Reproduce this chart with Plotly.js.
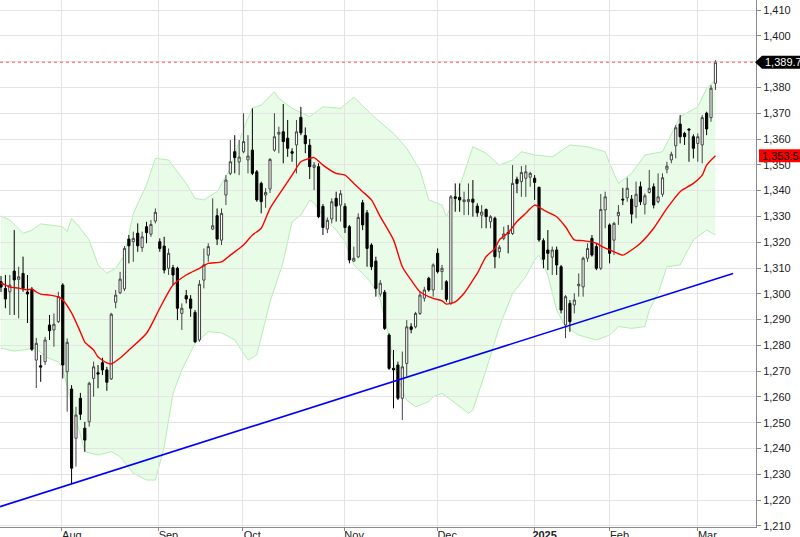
<!DOCTYPE html>
<html><head><meta charset="utf-8">
<script src="https://cdn.plot.ly/plotly-3.0.1.min.js"></script>
<style>html,body{margin:0;padding:0;background:#fff}#chart{width:800px;height:537px}</style>
</head><body><div id="chart"></div>
<script>
// ---- candle data (one per trading day) ----
const open = [
1304.7,1302.1,1300.8,1308.8,1305.6,1307.9,1300.7,1301.7,1274.3,1272.1,
1273.7,1287.9,1286.0,1289.2,1303.4,1269.8,1263.1,1244.0,1259.5,1247.9,
1250.4,1267.2,1269.4,1273.3,1270.5,1267.0,1296.7,1300.4,1301.9,1321.2,
1320.2,1323.5,1317.9,1326.0,1323.1,1328.2,1320.2,1318.5,1309.9,1310.1,
1309.9,1292.4,1299.3,1298.0,1292.8,1282.1,1305.3,1315.0,1325.1,1330.3,
1320.8,1338.3,1346.7,1355.1,1351.1,1355.1,1351.9,1355.7,1347.3,1342.8,
1338.3,1340.6,1355.7,1361.9,1362.8,1360.3,1355.1,1357.7,1368.4,1361.4,
1357.6,1349.0,1349.3,1333.9,1325.1,1329.0,1337.0,1334.4,1333.9,1326.0,
1312.7,1314.3,1335.3,1331.4,1318.9,1312.7,1299.9,1300.6,1284.0,1271.1,
1272.4,1259.5,1273.0,1287.2,1287.2,1292.4,1298.3,1306.0,1301.5,1315.7,
1308.6,1304.7,1296.3,1337.6,1337.4,1335.7,1335.7,1336.7,1334.0,1330.5,
1332.7,1328.0,1329.3,1316.3,1321.5,1323.8,1323.4,1344.4,1343.5,1344.8,
1345.2,1344.8,1341.3,1320.6,1317.0,1314.2,1317.0,1310.5,1287.9,1296.3,
1295.7,1303.1,1302.7,1313.8,1321.5,1318.3,1309.9,1332.5,1326.7,1320.8,
1330.3,1336.7,1337.2,1336.7,1333.8,1341.5,1334.7,1339.3,1341.5,1335.7,
1338.6,1348.3,1351.9,1357.4,1365.8,1362.2,1363.9,1360.9,1358.3,1357.7,
1370.0,1368.3,1381.6];
const high = [
1306.9,1307.3,1307.3,1324.7,1310.5,1314.4,1307.3,1302.6,1282.9,1276.3,
1283.3,1291.8,1292.4,1300.8,1304.1,1282.7,1264.6,1256.2,1261.6,1250.4,
1265.9,1273.7,1272.4,1275.2,1271.7,1292.6,1301.5,1308.5,1318.5,1322.8,
1324.1,1327.3,1324.1,1327.9,1328.6,1333.1,1321.5,1322.1,1317.6,1311.2,
1310.5,1296.3,1301.5,1299.5,1293.7,1305.3,1317.6,1319.6,1337.0,1333.1,
1333.1,1346.0,1359.6,1361.5,1359.6,1370.0,1361.5,1371.9,1348.0,1343.5,
1341.0,1352.6,1370.0,1364.8,1373.6,1367.4,1356.4,1367.4,1372.5,1364.5,
1360.0,1351.1,1350.6,1334.8,1329.6,1337.0,1339.6,1340.2,1335.1,1326.7,
1318.3,1331.2,1336.4,1332.5,1319.6,1314.4,1305.3,1301.5,1284.7,1278.2,
1273.7,1277.6,1289.8,1288.6,1293.0,1300.8,1302.7,1306.6,1311.8,1317.6,
1311.2,1305.3,1338.3,1342.8,1342.8,1339.6,1342.8,1344.1,1335.1,1334.4,
1333.1,1330.5,1329.9,1318.9,1326.0,1326.7,1349.9,1345.4,1349.5,1349.9,
1347.3,1346.0,1341.5,1321.5,1324.7,1318.3,1318.3,1311.2,1299.5,1297.6,
1300.2,1307.9,1314.4,1319.6,1322.8,1319.6,1338.7,1339.6,1327.3,1327.9,
1334.4,1341.1,1345.0,1338.3,1343.5,1343.5,1338.9,1348.0,1342.8,1346.7,
1346.7,1351.2,1355.1,1365.4,1369.3,1362.8,1364.1,1361.8,1362.2,1369.3,
1370.6,1380.9,1390.6];
const low = [
1300.7,1294.4,1291.8,1291.8,1290.5,1300.8,1288.7,1277.8,1263.5,1265.9,
1272.4,1282.1,1279.5,1288.7,1267.2,1254.3,1226.6,1233.0,1251.1,1238.8,
1248.5,1260.1,1263.4,1268.5,1262.4,1266.6,1294.4,1299.9,1301.1,1311.8,
1312.4,1316.3,1316.3,1319.6,1322.1,1327.3,1316.3,1307.9,1307.3,1303.4,
1289.8,1286.0,1296.3,1291.1,1280.9,1281.4,1302.1,1312.4,1324.7,1318.9,
1318.9,1334.4,1346.0,1346.7,1346.0,1354.5,1346.7,1346.0,1335.7,1331.2,
1333.3,1339.1,1355.1,1354.5,1350.6,1353.1,1351.2,1346.7,1361.5,1354.5,
1344.5,1340.2,1329.3,1322.8,1323.5,1327.3,1328.0,1328.0,1323.6,1311.8,
1312.3,1313.8,1324.7,1310.5,1309.2,1298.9,1298.9,1286.0,1270.5,1255.6,
1258.8,1251.1,1267.9,1284.7,1286.6,1291.8,1297.0,1300.8,1298.9,1307.9,
1301.5,1296.9,1295.7,1331.8,1331.8,1330.5,1330.5,1329.9,1329.9,1325.4,
1325.4,1325.4,1309.9,1313.8,1320.8,1315.7,1322.8,1339.0,1337.6,1337.6,
1341.5,1336.4,1320.2,1309.9,1309.2,1307.3,1307.3,1292.4,1282.8,1285.3,
1292.4,1298.9,1298.9,1312.4,1314.4,1309.2,1309.2,1325.4,1311.8,1315.0,
1326.7,1334.4,1335.7,1327.3,1329.3,1334.4,1330.8,1338.9,1333.1,1335.1,
1337.6,1346.7,1350.6,1352.5,1358.3,1357.7,1351.2,1352.5,1351.2,1350.6,
1361.5,1366.7,1379.0];
const close = [
1302.6,1298.0,1303.4,1305.4,1306.6,1302.1,1299.9,1278.5,1280.8,1271.6,
1282.1,1285.7,1288.2,1298.9,1272.4,1281.2,1232.4,1253.0,1253.3,1243.3,
1265.3,1271.7,1268.9,1270.5,1265.7,1292.1,1299.5,1305.7,1317.6,1318.6,
1321.5,1318.6,1322.1,1323.7,1326.9,1331.6,1317.6,1309.2,1315.7,1307.3,
1294.4,1294.4,1298.0,1294.4,1281.4,1303.7,1311.2,1318.3,1326.4,1321.2,
1331.2,1344.1,1351.2,1352.8,1353.0,1359.0,1353.4,1346.7,1336.4,1335.7,
1339.3,1352.1,1360.9,1362.6,1359.0,1356.4,1354.5,1362.8,1362.4,1358.2,
1349.3,1349.9,1329.9,1325.7,1328.5,1335.7,1334.0,1338.8,1325.7,1313.1,
1313.8,1329.6,1326.7,1317.6,1310.5,1302.1,1304.1,1286.6,1271.1,1270.5,
1259.5,1271.7,1287.2,1286.2,1292.4,1299.5,1301.5,1301.5,1311.2,1308.6,
1309.9,1297.9,1337.6,1337.0,1336.4,1336.4,1336.6,1335.5,1331.4,1331.7,
1329.9,1329.9,1314.4,1318.0,1323.2,1323.4,1342.8,1342.8,1347.0,1347.3,
1346.7,1343.2,1320.9,1313.4,1315.7,1317.0,1311.2,1293.7,1298.9,1289.2,
1297.6,1303.7,1313.8,1317.6,1315.0,1309.9,1332.7,1337.6,1315.7,1327.3,
1331.6,1336.4,1340.9,1330.9,1338.6,1335.7,1338.0,1340.9,1334.4,1337.6,
1345.0,1349.5,1354.1,1364.4,1360.9,1360.9,1363.5,1356.4,1360.9,1368.3,
1363.9,1379.7,1389.77];

// ---- indicator readings (day index, value) ----
const maIdx = [0,2,4,6,7,8,9,11,13,14,16,18,19,21,22,24,25,27,29,33,
36,39,42,45,47,50,52,55,57,59,61,64,66,68,70,71,73,76,78,80,
82,84,86,89,91,93,95,98,100,101,103,105,107,108,110,112,113,115,117,119,
121,123,126,128,130,132,135,136,138,141,143,145,148,151,154,157,159,160,162];
const maVal = [1304.2,1302.6,1302.2,1301.5,1301.9,1300.7,1299.9,1299.5,1298.8,1297.6,
1292.6,1285.2,1281.3,1278.2,1275.5,1273.2,1272.8,1275.1,1278.2,1284.7,
1294.4,1303.4,1307.3,1309.9,1311.8,1312.4,1315.0,1318.9,1322.8,1325.4,
1333.1,1340.9,1346.0,1351.2,1352.5,1352.8,1349.9,1346.7,1346.0,1342.8,
1339.6,1336.4,1329.9,1320.9,1310.5,1305.3,1300.8,1298.2,1297.3,1296.0,
1296.9,1300.2,1305.3,1307.9,1314.4,1317.6,1320.9,1323.7,1328.0,1331.2,
1334.4,1332.5,1329.9,1326.0,1320.9,1320.6,1319.6,1318.6,1317.0,1315.0,
1317.0,1319.6,1325.4,1333.1,1339.6,1342.8,1346.0,1349.9,1353.53];

const upperIdx = [0,2,5,7,9,14,15,16,18,20,22,24,26,28,30,33,35,38,40,42,
44,46,49,52,55,57,59,62,63,66,70,73,77,80,83,85,89,92,95,97,
100,101,104,107,110,113,116,118,121,125,129,133,137,138,140,143,146,150,154,158,
160,162];
const upperVal = [1330.2,1328.6,1323.4,1324.7,1327.1,1326.0,1324.1,1329.3,1325.4,1320.9,
1311.2,1308.0,1309.9,1315.0,1331.2,1342.2,1352.5,1351.9,1347.3,1342.8,
1337.0,1336.4,1339.6,1348.6,1364.1,1371.9,1373.2,1378.3,1375.8,1371.9,
1368.7,1372.5,1371.9,1376.2,1371.2,1368.0,1362.2,1356.4,1348.0,1336.4,
1334.4,1329.9,1341.5,1357.0,1354.5,1349.9,1351.9,1355.1,1353.8,1353.1,
1357.7,1357.0,1355.1,1350.6,1342.8,1346.7,1353.8,1355.1,1368.6,1372.5,
1379.6,1382.9];

const lowerIdx = [0,3,8,10,13,14,16,18,19,22,25,27,30,33,35,37,39,41,44,47,
50,53,56,58,61,64,66,68,70,71,74,76,78,80,82,84,86,88,89,91,
92,94,97,98,100,103,106,107,110,113,116,119,121,122,124,126,128,131,135,138,
140,143,146,147,149,151,154,155,157,160,162];
const lowerVal = [1278.9,1277.8,1278.9,1275.6,1273.6,1271.1,1256.9,1245.3,1238.8,1237.5,
1238.8,1236.9,1230.4,1227.8,1227.8,1240.7,1261.4,1270.5,1280.8,1285.3,
1284.9,1282.1,1274.3,1276.3,1296.9,1312.4,1327.9,1330.5,1336.4,1335.1,
1327.9,1324.7,1320.2,1311.2,1307.9,1304.1,1297.6,1283.4,1273.1,1262.7,
1258.8,1256.2,1258.2,1260.1,1261.4,1257.6,1253.7,1255.0,1270.5,1287.2,
1300.2,1306.6,1313.1,1315.0,1307.3,1293.7,1287.3,1284.0,1282.1,1284.0,
1287.3,1286.6,1287.3,1293.7,1300.2,1310.5,1311.2,1314.6,1320.9,1324.7,
1322.8];

const trendIdx = [-0.23, 166.0];
const trendVal = [1217.5, 1307.9];

const lastPrice = 1389.77;
const maLast = 1353.53;

const monthTickIdx = [13.8, 35.7, 54.7, 77.8, 98.9, 121.0, 138.0, 157.9];
const monthTickText = ['Aug','Sep','Oct','Nov','Dec','<b>2025</b>','Feb','Mar'];

// ---- layout constants ----
const Y_MIN = 1209.6, Y_MAX = 1413.9, X_MIN = -0.23, X_MAX = 171.2;
const PLOT_W = 756, PLOT_H = 527;
const dayIndex = open.map((_, i) => i);
const yP = v => (v - Y_MIN) / (Y_MAX - Y_MIN);
const xP = px => px / PLOT_W;
const halfH = 6.5 / PLOT_H;

// band drawn as shapes beneath the candles (data coordinates)
const pts = (xs, ys) => xs.map((x, i) => `${x},${ys[i]}`);
const upPts = pts(upperIdx, upperVal);
const loPts = pts(lowerIdx, lowerVal);
const bandFill = 'M ' + upPts.join(' L ') + ' L ' + loPts.slice().reverse().join(' L ') + ' Z';
const upperEdge = 'M ' + upPts.join(' L ');
const lowerEdge = 'M ' + loPts.join(' L ');

const traces = [
  {type:'candlestick', x: dayIndex, open: open, high: high, low: low, close: close,
   increasing:{line:{color:'#444444', width:1}, fillcolor:'#ffffff'},
   decreasing:{line:{color:'#000000', width:1}, fillcolor:'#000000'},
   whiskerwidth:0, hoverinfo:'skip'},
  {type:'scatter', mode:'lines', x: maIdx, y: maVal, line:{color:'#ff0000', width:1.4, shape:'spline', smoothing:0.6}, hoverinfo:'skip'},
  {type:'scatter', mode:'lines', x: trendIdx, y: trendVal, line:{color:'#0000ff', width:1.6}, hoverinfo:'skip'}
];

const pLast = yP(lastPrice), pMa = yP(maLast);
const layout = {
  width:800, height:537,
  margin:{l:0, r:44, t:0, b:10},
  paper_bgcolor:'#ffffff', plot_bgcolor:'#ffffff',
  showlegend:false,
  font:{family:'"Liberation Sans", Arial, sans-serif', size:11, color:'#333333'},
  xaxis:{type:'linear', range:[X_MIN, X_MAX], tickvals: monthTickIdx, ticktext: monthTickText,
    showgrid:true, gridcolor:'#e4e4e4', gridwidth:1, zeroline:false,
    showline:true, linecolor:'#8a8a8a', linewidth:1, ticks:'outside', ticklen:3, tickcolor:'#8a8a8a',
    ticklabelshift:10, ticklabelstandoff:-5, tickfont:{size:11, color:'#222222'},
    rangeslider:{visible:false}, fixedrange:true},
  yaxis:{side:'right', range:[Y_MIN, Y_MAX], dtick:10, tick0:1210, tickformat:',d',
    showgrid:true, gridcolor:'#e4e4e4', gridwidth:1, zeroline:false,
    showline:true, linecolor:'#8a8a8a', linewidth:1, ticks:'outside', ticklen:4, tickcolor:'#8a8a8a',
    tickfont:{size:11, color:'#222222'}, fixedrange:true},
  shapes:[
    {type:'path', xref:'x', yref:'y', layer:'below', path: bandFill, fillcolor:'#e8fce8', line:{width:0}},
    {type:'path', xref:'x', yref:'y', layer:'below', path: upperEdge, line:{color:'#b3eeb3', width:1}},
    {type:'path', xref:'x', yref:'y', layer:'below', path: lowerEdge, line:{color:'#b3eeb3', width:1}},
    {type:'line', xref:'paper', yref:'y', x0:0, x1:1, y0:lastPrice, y1:lastPrice,
     line:{color:'#ff5a5a', width:1, dash:'dot'}},
    {type:'path', xref:'paper', yref:'paper',
     path:`M ${xP(755)},${pLast} L ${xP(762)},${pLast+halfH} L ${xP(806)},${pLast+halfH} L ${xP(806)},${pLast-halfH} L ${xP(762)},${pLast-halfH} Z`,
     fillcolor:'#000000', line:{width:0}},
    {type:'rect', xref:'paper', yref:'paper', x0:xP(759), x1:xP(806), y0:pMa-halfH, y1:pMa+halfH,
     fillcolor:'#ff0000', line:{width:0}}
  ],
  annotations:[
    {xref:'paper', yref:'y', x:xP(763), y:lastPrice, xanchor:'left', yanchor:'middle',
     text:'1,389.77', showarrow:false, font:{color:'#ffffff', size:11}},
    {xref:'paper', yref:'y', x:xP(760), y:maLast, xanchor:'left', yanchor:'middle',
     text:'1,353.53', showarrow:false, font:{color:'#000000', size:11}}
  ]
};

Plotly.newPlot('chart', traces, layout, {displayModeBar:false, staticPlot:true});
</script></body></html>
